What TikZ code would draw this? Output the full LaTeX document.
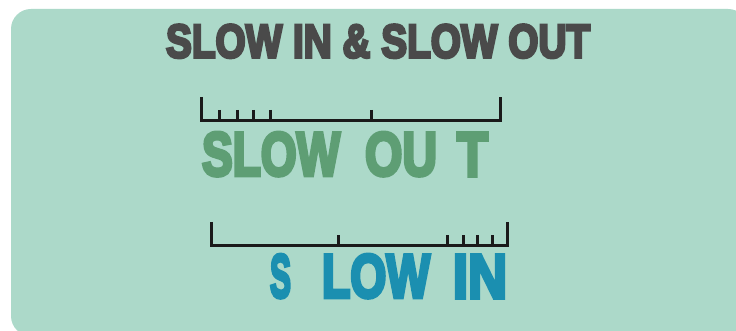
\documentclass[tikz,border=0pt]{standalone}
\usepackage{fontspec}
\setmainfont{Liberation Sans}[BoldFeatures={FakeBold=6}]
\usepackage{graphicx}
\definecolor{panel}{HTML}{ACD9C9}
\definecolor{titlegray}{HTML}{4A4A4A}
\definecolor{outgreen}{HTML}{5E9E74}
\definecolor{inblue}{HTML}{1B8FB0}
\definecolor{ink}{HTML}{1A1A1A}
\tikzset{
  word/.style={anchor=south west, inner sep=0pt, outer sep=0pt},
  ruler/.style={draw=ink, line width=3pt, line cap=butt, line join=miter},
}
\newcommand{\fitword}[3]{\resizebox{#1pt}{#2pt}{\bfseries #3}}
\begin{document}
\begin{tikzpicture}[x=1pt,y=-1pt]
\useasboundingbox (0,0) rectangle (736,331);
\fill[white] (0,0) rectangle (736,331);
\fill[panel, rounded corners=20pt] (11,9) rectangle (748,336);
% title
\node[word, text=titlegray] (title) at (166,58) {\fitword{424}{33}{SLOW IN \& SLOW OUT}};
% ruler 1 (slow out)
\coordinate (r1a) at (201,97);
\coordinate (r1b) at (500,97);
\draw[ruler] (r1a) -- (201,121) -- (500,121) -- (r1b);
\foreach \x in {219,237,253,270,371} \draw[ruler] (\x,110) -- (\x,121);
\node[word, text=outgreen] (so1) at (202,176) {\fitword{138}{43}{SLOW}};
\node[word, text=outgreen] (so2) at (365,176) {\fitword{72}{43}{OU}};
\node[word, text=outgreen] (so3) at (457,176) {\fitword{31}{43}{T}};
% ruler 2 (slow in)
\coordinate (r2a) at (211,222);
\coordinate (r2b) at (507,222);
\draw[ruler] (r2a) -- (211,245) -- (507,245) -- (r2b);
\foreach \x in {338,447,463,477,492} \draw[ruler] (\x,235) -- (\x,245);
\node[word, text=inblue] (si1) at (270,298) {\fitword{21}{43}{S}};
\node[word, text=inblue] (si2) at (322,298) {\fitword{108}{43}{LOW}};
\node[word, text=inblue] (si3) at (453,298) {\fitword{54}{43}{IN}};
\end{tikzpicture}
\end{document}
